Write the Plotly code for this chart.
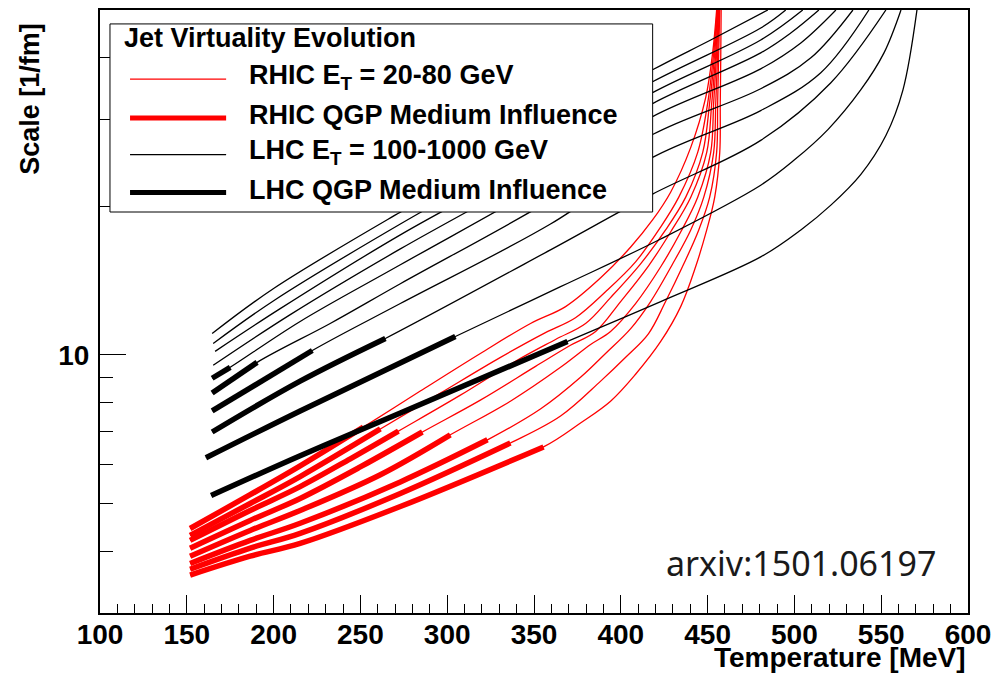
import math
import plotly.graph_objects as go

# ---------------- data ----------------
# RHIC curves (E_T = 20-80 GeV): temperature [MeV] and scale [1/fm]
rhic_T = [
    [151.9, 186.5, 215.3, 251.7, 284.5, 319.1, 348.0, 368.2, 388.4, 405.7, 418.3, 428.7, 440.3, 448.9, 452.9, 455.2],
    [151.9, 186.5, 215.3, 261.5, 296.1, 330.7, 356.6, 373.9, 391.2, 408.5, 423.0, 433.4, 444.3, 450.1, 453.5, 455.5],
    [151.9, 186.5, 215.3, 244.2, 271.9, 307.6, 339.3, 362.4, 379.7, 394.1, 411.4, 425.8, 437.4, 447.2, 451.2, 454.1, 455.8],
    [151.9, 186.5, 215.3, 249.9, 285.7, 319.1, 350.9, 371.0, 385.5, 399.9, 416.0, 428.7, 440.3, 449.5, 452.4, 454.7, 456.1],
    [151.9, 186.5, 215.3, 261.5, 301.8, 336.4, 365.3, 382.6, 394.1, 408.5, 423.0, 434.5, 444.3, 451.8, 453.5, 455.2, 456.4],
    [151.9, 186.5, 215.3, 273.0, 323.2, 353.7, 376.8, 391.2, 405.7, 417.2, 429.9, 440.3, 447.8, 453.5, 454.7, 455.8, 456.7],
    [151.9, 186.5, 215.3, 273.0, 336.4, 365.3, 388.4, 402.8, 416.0, 425.8, 436.3, 444.9, 451.2, 455.2, 455.8, 456.4, 457.0],
    [151.9, 186.5, 215.3, 273.0, 355.5, 376.8, 394.1, 408.5, 423.0, 434.5, 443.1, 449.5, 454.1, 457.0, 457.3, 457.6, 457.8],
]
rhic_S = [
    [4.45, 5.21, 5.96, 7.14, 8.45, 10.07, 11.58, 12.53, 14.33, 16.55, 18.77, 21.37, 26.34, 33.21, 40.93, 50.0],
    [4.31, 5.00, 5.67, 7.08, 8.37, 9.89, 11.10, 11.90, 13.43, 15.44, 18.17, 20.88, 25.73, 32.45, 40.93, 50.0],
    [4.21, 4.84, 5.41, 6.16, 7.01, 8.29, 9.71, 10.75, 11.58, 13.07, 15.30, 17.92, 20.88, 25.73, 32.45, 40.93, 50.0],
    [4.06, 4.62, 5.12, 5.93, 6.98, 8.10, 9.48, 10.46, 11.16, 12.83, 15.16, 17.75, 20.88, 25.73, 32.45, 40.93, 50.0],
    [3.91, 4.41, 4.84, 5.72, 6.89, 8.06, 9.44, 10.50, 11.16, 12.71, 15.09, 17.75, 20.88, 25.73, 32.45, 40.93, 50.0],
    [3.78, 4.21, 4.56, 5.53, 6.73, 7.77, 9.01, 10.07, 11.31, 12.83, 15.30, 17.92, 20.88, 25.73, 32.45, 40.93, 50.0],
    [3.68, 4.06, 4.35, 5.24, 6.63, 7.52, 8.85, 9.89, 11.05, 12.83, 15.30, 17.92, 20.88, 25.73, 32.45, 40.93, 50.0],
    [3.58, 3.91, 4.15, 4.93, 6.51, 7.28, 8.06, 9.14, 10.65, 12.53, 15.09, 17.92, 20.88, 25.73, 32.45, 40.93, 50.0],
]
# temperature where the QGP medium influence (thick part) ends
rhic_medium_end_T = [251.7, 261.5, 271.9, 285.7, 301.8, 323.2, 336.4, 355.5]

# LHC curves (E_T = 100-1000 GeV)
lhc_T = [
    [164.6, 199.8, 273.0, 359.5, 418.3, 451.8, 484.7],
    [165.2, 200.9, 273.0, 359.5, 418.3, 480.6, 495.0],
    [166.3, 203.8, 273.0, 359.5, 418.3, 480.6, 504.8],
    [165.2, 209.6, 273.0, 359.5, 418.3, 480.6, 497.9, 514.1],
    [164.6, 175.0, 215.3, 273.0, 359.5, 418.3, 480.6, 503.7, 523.9],
    [164.6, 190.5, 232.6, 273.0, 359.5, 418.3, 480.6, 509.5, 533.7],
    [164.6, 222.3, 273.0, 359.5, 418.3, 480.6, 515.2, 542.9],
    [164.6, 215.3, 264.4, 359.5, 418.3, 480.6, 521.0, 552.7],
    [161.0, 215.3, 304.7, 365.3, 423.0, 480.6, 499.7, 519.3, 538.3, 551.6, 561.4],
    [164.0, 215.3, 273.0, 369.3, 423.0, 480.6, 503.7, 521.0, 538.3, 552.7, 562.5, 570.6],
]
lhc_S = [
    [11.05, 13.62, 19.47, 28.89, 37.83, 43.47, 50.0],
    [10.55, 12.94, 18.42, 27.33, 35.77, 45.97, 50.0],
    [10.17, 12.41, 17.51, 25.73, 34.00, 43.47, 50.0],
    [9.53, 12.07, 16.40, 24.23, 32.31, 40.93, 44.91, 50.0],
    [8.97, 9.44, 11.69, 15.23, 22.60, 30.41, 38.00, 42.88, 50.0],
    [8.37, 9.66, 11.58, 13.94, 20.59, 27.97, 34.63, 40.00, 50.0],
    [7.70, 10.21, 12.71, 18.42, 25.14, 31.27, 37.31, 50.0],
    [6.98, 8.85, 10.80, 16.33, 21.18, 27.21, 35.61, 50.0],
    [6.19, 7.70, 10.90, 13.75, 17.18, 22.08, 24.79, 28.62, 34.47, 40.93, 50.0],
    [5.19, 6.25, 7.63, 10.65, 12.83, 15.80, 17.92, 20.12, 23.23, 27.84, 34.41, 50.0],
]
lhc_medium_end_T = [None, None, None, None, 175.0, 190.5, 222.3, 264.4, 304.7, 369.3]

legend_title = "Jet Virtuality Evolution"
legend_labels = [
    "RHIC E<sub>T</sub> = 20-80 GeV",
    "RHIC QGP Medium Influence",
    "LHC E<sub>T</sub> = 100-1000 GeV",
    "LHC QGP Medium Influence",
]
x_ticks = [100, 150, 200, 250, 300, 350, 400, 450, 500, 550, 600]
y_major = [10]
y_minor = [4, 5, 6, 7, 8, 9, 20, 30, 40]

# ---------------- styling ----------------
RED = "#ff0000"
BLACK = "#000000"
THIN = 1.3
THICK = 5.5
FONT = "Liberation Sans"

fig = go.Figure()


def add_curve(T, S, end_T, color):
    fig.add_trace(go.Scatter(x=T, y=S, mode="lines", showlegend=False,
                             line=dict(color=color, width=THIN, shape="spline", smoothing=1.0),
                             hoverinfo="skip"))
    if end_T is not None:
        tt = [t for t in T if t <= end_T]
        ss = S[:len(tt)]
        fig.add_trace(go.Scatter(x=tt, y=ss, mode="lines", showlegend=False,
                                 line=dict(color=color, width=THICK, shape="spline", smoothing=1.0),
                                 hoverinfo="skip"))


for T, S, e in zip(rhic_T, rhic_S, rhic_medium_end_T):
    add_curve(T, S, e, RED)
for T, S, e in zip(lhc_T, lhc_S, lhc_medium_end_T):
    add_curve(T, S, e, BLACK)

# ---------------- axes ----------------
fig.update_xaxes(range=[100, 600], tickmode="array", tickvals=x_ticks,
                 ticks="inside", ticklen=18, tickwidth=1, tickcolor=BLACK,
                 showline=True, linecolor=BLACK, linewidth=2, mirror=True,
                 showgrid=False, zeroline=False, ticklabelstandoff=-5,
                 tickfont=dict(family=FONT, size=28, color=BLACK, weight="bold"),
                 minor=dict(dtick=10, tick0=100, ticks="inside", ticklen=9, tickwidth=1,
                            tickcolor=BLACK, showgrid=False))
fig.update_yaxes(type="log", range=[math.log10(3), math.log10(50)],
                 tickmode="array", tickvals=y_major, ticktext=[str(v) for v in y_major],
                 ticks="inside", ticklen=26, tickwidth=1, tickcolor=BLACK,
                 showline=True, linecolor=BLACK, linewidth=2, mirror=True,
                 showgrid=False, zeroline=False, ticklabelstandoff=3,
                 tickfont=dict(family=FONT, size=28, color=BLACK, weight="bold"),
                 minor=dict(tickmode="array", tickvals=y_minor, ticks="inside", ticklen=13,
                            tickwidth=1, tickcolor=BLACK, showgrid=False))

# ---------------- legend box (drawn manually, ROOT style) ----------------
L, R_, TOP, BOT = 0.0115, 0.6367, 0.9769, 0.665
fig.add_shape(type="rect", xref="paper", yref="paper", x0=L, x1=R_, y0=BOT, y1=TOP,
              line=dict(color=BLACK, width=1), fillcolor="white", layer="above")
fig.add_annotation(xref="paper", yref="paper", x=0.0254, y=0.9538, xanchor="left", yanchor="middle",
                   text=legend_title, showarrow=False,
                   font=dict(family=FONT, size=27, color=BLACK, weight="bold"))
rows_y = [0.8855, 0.8211, 0.7601, 0.6974]
styles = [(RED, 1.2), (RED, 5), (BLACK, 1.2), (BLACK, 5)]
for yy, (c, w), lab in zip(rows_y, styles, legend_labels):
    fig.add_shape(type="line", xref="paper", yref="paper", x0=0.0346, x1=0.1453, y0=yy, y1=yy,
                  line=dict(color=c, width=w), layer="above")
    fig.add_annotation(xref="paper", yref="paper", x=0.1696, y=yy + 0.004, xanchor="left", yanchor="middle",
                       text=lab, showarrow=False,
                       font=dict(family=FONT, size=27, color=BLACK, weight="bold"))

# ---------------- axis titles and tag ----------------
fig.add_annotation(xref="paper", yref="paper", x=1.0, y=-0.0746, xanchor="right", yanchor="middle",
                   text="Temperature [MeV]", showarrow=False,
                   font=dict(family=FONT, size=28, color=BLACK, weight="bold"))
fig.add_annotation(xref="paper", yref="paper", x=-0.0807, y=0.982, xanchor="center", yanchor="top",
                   text="Scale [1/fm]", textangle=-90, showarrow=False,
                   font=dict(family=FONT, size=27, color=BLACK, weight="bold"))
fig.add_annotation(xref="paper", yref="paper", x=0.9654, y=0.0825, xanchor="right", yanchor="middle",
                   text="arxiv:1501.06197", showarrow=False,
                   font=dict(family="Noto Sans", size=34, color="#1a1a1a"))

# the page adds an 8 px body margin, so the figure is sized/shifted to compensate
fig.update_layout(width=995, height=666, margin=dict(l=92, r=35, t=0, b=61),
                  paper_bgcolor="white", plot_bgcolor="white", showlegend=False)

fig.write_html("out.html")
